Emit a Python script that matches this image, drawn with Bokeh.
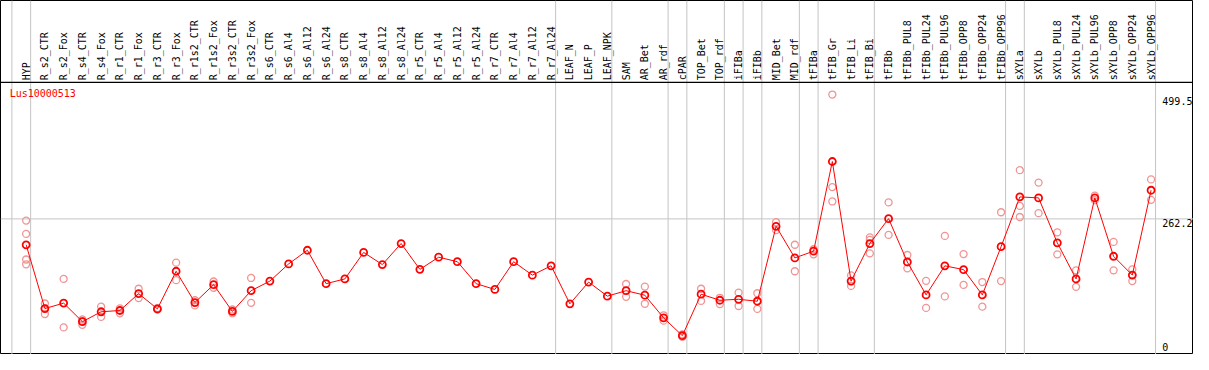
import numpy as np
from bokeh.plotting import figure
from bokeh.models import Range1d
from bokeh.core.properties import value
from bokeh.embed import file_html
from bokeh.resources import INLINE

gene = "Lus10000513"

categories = [
    "HYP", "R_s2_CTR", "R_s2_Fox", "R_s4_CTR", "R_s4_Fox", "R_r1_CTR", "R_r1_Fox",
    "R_r3_CTR", "R_r3_Fox", "R_r1s2_CTR", "R_r1s2_Fox", "R_r3s2_CTR", "R_r3s2_Fox",
    "R_s6_CTR", "R_s6_Al4", "R_s6_Al12", "R_s6_Al24", "R_s8_CTR", "R_s8_Al4",
    "R_s8_Al12", "R_s8_Al24", "R_r5_CTR", "R_r5_Al4", "R_r5_Al12", "R_r5_Al24",
    "R_r7_CTR", "R_r7_Al4", "R_r7_Al12", "R_r7_Al24", "LEAF_N", "LEAF_P", "LEAF_NPK",
    "SAM", "AR_Bet", "AR_rdf", "cPAR", "TOP_Bet", "TOP_rdf", "iFIBa", "iFIBb",
    "MID_Bet", "MID_rdf", "tFIBa", "tFIB_Gr", "tFIB_Li", "tFIB_Bi", "tFIBb",
    "tFIBb_PUL8", "tFIBb_PUL24", "tFIBb_PUL96", "tFIBb_OPP8", "tFIBb_OPP24",
    "tFIBb_OPP96", "sXYLa", "sXYLb", "sXYLb_PUL8", "sXYLb_PUL24", "sXYLb_PUL96",
    "sXYLb_OPP8", "sXYLb_OPP24", "sXYLb_OPP96",
]

# number of consecutive categories in each separated group
group_sizes = [1, 28, 3, 3, 1, 2, 1, 1, 2, 1, 3, 7, 1, 7]

means = [
    212.8, 91.1, 101.5, 66.1, 85.0, 87.4, 119.7, 90.5, 162.3, 102.6, 136.7, 85.6, 125.2,
    143.5, 176.3, 202.4, 138.6, 147.7, 198.2, 175.1, 215.2, 165.9, 189.1, 180.5, 138.6,
    127.6, 180.5, 154.9, 172.7, 100.2, 141.6, 114.8,
    125.2, 116.6, 73.4, 39.4, 118.5, 107.0, 108.8, 105.1,
    248.0, 187.8, 200.6, 371.7, 143.5, 215.2, 262.7,
    180.0, 117.2, 172.7, 165.4, 117.2, 209.2,
    304.1, 302.3, 216.5, 147.7, 302.3, 190.9, 155.0, 316.9,
]

replicates = [
    [259.0, 233.5, 184.7, 175.6], [100.8, 91.5, 80.7], [147.7, 55.1], [70.5, 67.5, 60.0],
    [94.7, 75.2], [91.6, 82.0], [128.9, 111.2], [92.0, 89.0], [178.7, 145.3],
    [107.0, 97.1], [142.8, 130.7], [89.3, 82.0], [149.5, 102.0],
    [], [], [], [], [], [], [], [], [], [], [], [], [], [], [], [], [], [], [],
    [138.0, 113.6], [133.1, 100.2], [78.3, 68.0], [42.0, 37.0], [128.9, 105.7],
    [111.7, 99.7], [121.6, 96.0], [120.3, 90.5],
    [256.0, 240.8], [212.9, 162.3], [204.3, 194.6], [499.5, 322.9, 295.5],
    [154.4, 143.0, 134.4], [227.0, 222.0, 196.4], [293.7, 231.7],
    [193.3, 167.8], [144.0, 92.4], [229.8, 114.3], [195.1, 136.2], [141.7, 94.7],
    [274.9, 143.5],
    [355.2, 287.0, 265.8], [331.5, 273.1], [236.6, 194.6], [164.1, 132.5],
    [306.5, 297.9], [218.3, 164.1], [165.9, 143.5], [337.5, 298.6],
]

tick_values = [0, 262.2, 499.5]
tick_labels = ["0", "262.2", "499.5"]

# ---------------------------------------------------------------------------
n = len(categories)
idx = np.arange(n)

X0, X1 = -1.368, n - 1 + 2.263
Y0, Y1 = 3.47, 678.9
HDR = 522.5          # boundary between header (labels) and the plot area

FONT = value("DejaVu Sans Mono")

p = figure(width=1193, height=354, x_range=Range1d(X0, X1), y_range=Range1d(Y0, Y1),
           output_backend="svg", toolbar_location=None, min_border=0,
           x_axis_location=None, y_axis_location=None)
p.grid.visible = False
p.outline_line_color = "black"
p.outline_line_width = 1
p.background_fill_color = "white"
p.border_fill_color = "white"

# vertical separators between groups
ends = np.cumsum(group_sizes) - 1
seps = np.concatenate([[-1], ends]) + 0.24
p.segment(x0=seps, y0=[Y0] * len(seps), x1=seps, y1=[Y1] * len(seps),
          line_color="#c4c4c4", line_width=1)

# horizontal grid at inner ticks
inner = [t for t in tick_values if 0 < t < max(tick_values)]
p.segment(x0=[X0] * len(inner), y0=inner, x1=[X1] * len(inner), y1=inner,
          line_color="#c4c4c4", line_width=1)

# header separator line
p.segment(x0=[X0], y0=[HDR], x1=[X1], y1=[HDR], line_color="black", line_width=1.2)

# rotated category labels
p.text(x=idx, y=[HDR + 4] * n, text=categories, angle=np.pi / 2,
       text_align="left", text_baseline="middle", text_font=FONT,
       text_font_size="10px", text_color="black")

# replicates
rx = [i for i, r in enumerate(replicates) for _ in r]
ry = [v for r in replicates for v in r]
p.scatter(rx, ry, marker="circle", size=7, fill_color=None,
          line_color="#f09494", line_width=1.3)

# mean profile
p.line(idx, means, line_color="#ff0000", line_width=1)
p.scatter(idx, means, marker="circle", size=7, fill_color=None,
          line_color="#ff0000", line_width=1.8)

# tick labels on the right, inside the frame
lab_y = [min(max(t, 25.4), 494.0) for t in tick_values]
p.text(x=[n - 1 + 0.6] * len(tick_values), y=lab_y, text=tick_labels,
       text_align="left", text_baseline="top", text_font=FONT,
       text_font_size="10px", text_color="black")

# gene name
p.text(x=[-0.88], y=[501.8], text=[gene], text_align="left", text_baseline="middle",
       text_font=FONT, text_font_size="10px", text_color="#ff0000")

open("out.html", "w").write(file_html(p, INLINE))
